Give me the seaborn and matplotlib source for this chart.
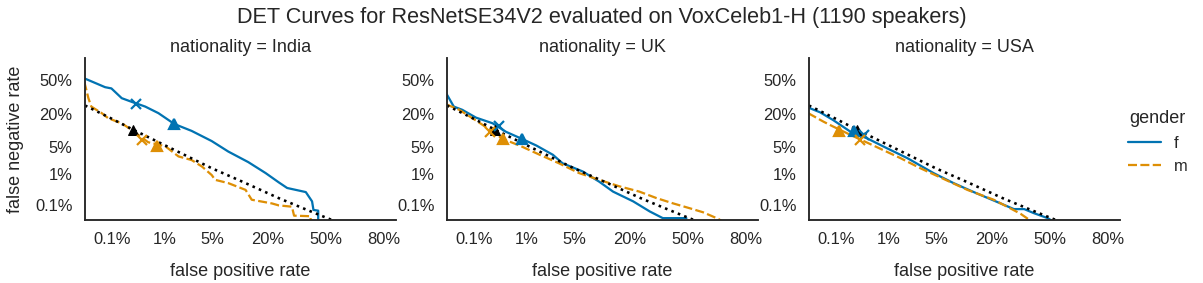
import math
import numpy as np
import pandas as pd
import matplotlib
matplotlib.use("Agg")
import matplotlib.pyplot as plt
import seaborn as sns

# ---------------- data (rates) ----------------
nationalities = ["India", "UK", "USA"]
genders = ["f", "m"]

india_f_fpr = [0.00024, 0.00071, 0.00097, 0.00159, 0.00248, 0.00453, 0.00776, 0.0143, 0.0262, 0.0495,
               0.0793, 0.131, 0.192, 0.248, 0.288, 0.386, 0.421, 0.429, 0.456, 0.456]
india_f_fnr = [0.516, 0.429, 0.417, 0.326, 0.295, 0.255, 0.206, 0.138, 0.104, 0.0655,
               0.0384, 0.0212, 0.0107, 0.0057, 0.0038, 0.0028, 0.00135, 0.00066, 0.00062, 0.00016]
india_m_fpr = [0.00024, 0.00030, 0.00035, 0.00060, 0.00084, 0.00159, 0.00248, 0.0051, 0.0102, 0.0166,
               0.0262, 0.0367, 0.0495, 0.0548, 0.0793, 0.123, 0.142, 0.218, 0.248, 0.312,
               0.323, 0.413, 0.413]
india_m_fnr = [0.484, 0.326, 0.255, 0.206, 0.171, 0.142, 0.109, 0.062, 0.0505, 0.0294,
               0.0239, 0.0162, 0.0094, 0.0068, 0.0054, 0.0033, 0.00154, 0.00114, 0.00097, 0.00087,
               0.00040, 0.00038, 0.00016]

uk_f_fpr = [0.00024, 0.00036, 0.00056, 0.0011, 0.0024, 0.0043, 0.0084, 0.0143, 0.0256, 0.0352,
            0.0643, 0.100, 0.140, 0.215, 0.291, 0.359, 0.492]
uk_f_fnr = [0.371, 0.255, 0.230, 0.176, 0.142, 0.100, 0.072, 0.0526, 0.0322, 0.0197,
            0.0119, 0.0060, 0.0029, 0.00135, 0.00058, 0.00032, 0.00032]
uk_m_fpr = [0.00024, 0.00048, 0.00094, 0.0015, 0.0038, 0.0075, 0.0162, 0.0314, 0.058, 0.100,
            0.161, 0.242, 0.326, 0.417, 0.512, 0.587, 0.670, 0.709]
uk_m_fnr = [0.274, 0.230, 0.171, 0.134, 0.072, 0.0526, 0.0322, 0.0197, 0.0107, 0.0068,
            0.0043, 0.0029, 0.00175, 0.00114, 0.00076, 0.00054, 0.00030, 0.00019]

usa_f_fpr = [0.00024, 0.00045, 0.00087, 0.0020, 0.0041, 0.0094, 0.0197, 0.0465, 0.0823, 0.136,
             0.239, 0.302, 0.356, 0.409, 0.488, 0.540]
usa_f_fnr = [0.248, 0.212, 0.161, 0.100, 0.075, 0.0455, 0.0268, 0.0107, 0.0054, 0.0028,
             0.00114, 0.00071, 0.00071, 0.00050, 0.00032, 0.00019]
usa_m_fpr = [0.00024, 0.00054, 0.00087, 0.0020, 0.0054, 0.0154, 0.0307, 0.057, 0.117, 0.209,
             0.284, 0.337, 0.382, 0.413]
usa_m_fnr = [0.206, 0.151, 0.125, 0.087, 0.0526, 0.0268, 0.0146, 0.0080, 0.0033, 0.00154,
             0.00076, 0.00047, 0.00028, 0.00016]

# overall DET curve (all speakers), drawn in every panel
overall_fpr = [0.00025, 0.00097, 0.0027, 0.0139, 0.0495, 0.115, 0.248, 0.382, 0.508, 0.618]
overall_fnr = [0.264, 0.170, 0.109, 0.0427, 0.0146, 0.0059, 0.00175, 0.00071, 0.00032, 0.00016]
overall_tri = (0.0027, 0.109)

# operating-point markers: (nationality, gender, marker, fpr, fnr)
marker_nat = ["India", "India", "India", "India", "UK", "UK", "UK", "UK", "USA", "USA", "USA", "USA"]
marker_gen = ["f", "f", "m", "m", "f", "f", "m", "m", "f", "f", "m", "m"]
marker_kind = ["x", "^", "x", "^", "x", "^", "x", "^", "x", "^", "x", "^"]
marker_fpr = [0.0030, 0.0143, 0.0040, 0.0073, 0.0032, 0.0084, 0.0021, 0.0038, 0.0036, 0.0023, 0.0030, 0.00114]
marker_fnr = [0.274, 0.138, 0.0694, 0.0526, 0.125, 0.072, 0.100, 0.072, 0.087, 0.104, 0.0694, 0.104]

x_ticks = [0.001, 0.01, 0.05, 0.2, 0.5, 0.8]
x_ticklabels = ["0.1%", "1%", "5%", "20%", "50%", "80%"]
y_ticks = [0.001, 0.01, 0.05, 0.2, 0.5]
y_ticklabels = ["0.1%", "1%", "5%", "20%", "50%"]

# ---------------- build long-form table ----------------
curves = {
    ("India", "f"): (india_f_fpr, india_f_fnr), ("India", "m"): (india_m_fpr, india_m_fnr),
    ("UK", "f"): (uk_f_fpr, uk_f_fnr), ("UK", "m"): (uk_m_fpr, uk_m_fnr),
    ("USA", "f"): (usa_f_fpr, usa_f_fnr), ("USA", "m"): (usa_m_fpr, usa_m_fnr),
}
rows = []
for (nat, gen), (fx, fy) in curves.items():
    for i, (a, b) in enumerate(zip(fx, fy)):
        rows.append({"nationality": nat, "gender": gen, "fpr": a, "fnr": b, "i": i})
df = pd.DataFrame(rows)
mk = pd.DataFrame({"nationality": marker_nat, "gender": marker_gen, "kind": marker_kind,
                   "fpr": marker_fpr, "fnr": marker_fnr})


# ---------------- probit scale ----------------
def _ppf(p):
    p = np.asarray(p, dtype=float)
    shape = p.shape
    p = np.clip(np.atleast_1d(p).ravel(), 1e-12, 1 - 1e-12)
    a = [-3.969683028665376e+01, 2.209460984245205e+02, -2.759285104469687e+02,
         1.383577518672690e+02, -3.066479806614716e+01, 2.506628277459239e+00]
    b = [-5.447609879822406e+01, 1.615858368580409e+02, -1.556989798598866e+02,
         6.680131188771972e+01, -1.328068155288572e+01]
    c = [-7.784894002430293e-03, -3.223964580411365e-01, -2.400758277161838e+00,
         -2.549732539343734e+00, 4.374664141464968e+00, 2.938163982698783e+00]
    d = [7.784695709041462e-03, 3.224671290700398e-01, 2.445134137142996e+00,
         3.754408661907416e+00]
    plow = 0.02425
    out = np.empty_like(p)
    lo = p < plow
    hi = p > 1 - plow
    mid = ~lo & ~hi
    q = np.sqrt(-2 * np.log(p[lo]))
    out[lo] = (((((c[0]*q+c[1])*q+c[2])*q+c[3])*q+c[4])*q+c[5]) / ((((d[0]*q+d[1])*q+d[2])*q+d[3])*q+1)
    q = np.sqrt(-2 * np.log(1 - p[hi]))
    out[hi] = -(((((c[0]*q+c[1])*q+c[2])*q+c[3])*q+c[4])*q+c[5]) / ((((d[0]*q+d[1])*q+d[2])*q+d[3])*q+1)
    q = p[mid] - 0.5
    r = q * q
    out[mid] = (((((a[0]*r+a[1])*r+a[2])*r+a[3])*r+a[4])*r+a[5])*q / (((((b[0]*r+b[1])*r+b[2])*r+b[3])*r+b[4])*r+1)
    return out.reshape(shape)


_erf = np.vectorize(math.erf)


def _cdf(z):
    z = np.asarray(z, dtype=float)
    return 0.5 * (1 + _erf(z / math.sqrt(2)))


# ---------------- plot ----------------
sns.set_theme(context="talk", style="white")
plt.rcParams["font.family"] = ["Liberation Sans", "DejaVu Sans"]
plt.rcParams["figure.dpi"] = 72

palette = dict(zip(genders, sns.color_palette("colorblind", 2)))

g = sns.FacetGrid(df, col="nationality", col_order=nationalities, sharex=False, sharey=False,
                  height=3, aspect=1.3)
g.map_dataframe(sns.lineplot, x="fpr", y="fnr", hue="gender", hue_order=genders,
                style="gender", style_order=genders, palette=palette,
                sort=False, estimator=None, linewidth=2.25)

handles, labels = g.axes.flat[0].get_legend_handles_labels()

for ax, nat in zip(g.axes.flat, nationalities):
    if ax.get_legend() is not None:
        ax.get_legend().remove()
    ax.set_xscale("function", functions=(_ppf, _cdf))
    ax.set_yscale("function", functions=(_ppf, _cdf))
    sns.lineplot(x=overall_fpr, y=overall_fnr, ax=ax, color="black", linestyle=":",
                 linewidth=2.6, sort=False, estimator=None, legend=False)
    ax.plot([overall_tri[0]], [overall_tri[1]], marker="^", color="black", markersize=10, ls="none")
    sub = mk[mk["nationality"] == nat]
    for _, r in sub.iterrows():
        ax.plot([r["fpr"]], [r["fnr"]], marker=r["kind"], color=palette[r["gender"]],
                markersize=10, markeredgewidth=2.2, ls="none")
    ax.set_xlim(0.00025, 0.845)
    ax.set_ylim(0.00027, 0.706)
    ax.set_xticks(x_ticks)
    ax.set_xticklabels(x_ticklabels)
    ax.set_yticks(y_ticks)
    ax.set_yticklabels(y_ticklabels)
    ax.xaxis.set_minor_locator(matplotlib.ticker.NullLocator())
    ax.yaxis.set_minor_locator(matplotlib.ticker.NullLocator())
    ax.set_xlabel("false positive rate", labelpad=15)
    ax.set_ylabel("")
    ax.set_title(f"nationality = {nat}")
    if ax.get_legend() is not None:
        ax.get_legend().remove()

g.axes.flat[0].set_ylabel("false negative rate", labelpad=11)

fig = g.figure
fig.set_size_inches(1203 / 72, 283 / 72)
fig.subplots_adjust(left=85 / 1203, right=1120 / 1203, bottom=1 - 220 / 283, top=1 - 58 / 283,
                    wspace=51 / 312)
fig.legend(handles, labels, title="gender", loc="center left",
           bbox_to_anchor=(1113 / 1203, 1 - 142 / 283), frameon=False)
fig.suptitle("DET Curves for ResNetSE34V2 evaluated on VoxCeleb1-H (1190 speakers)",
             y=1 - 18 / 283, va="center")
fig.savefig("out.png", dpi=72)
